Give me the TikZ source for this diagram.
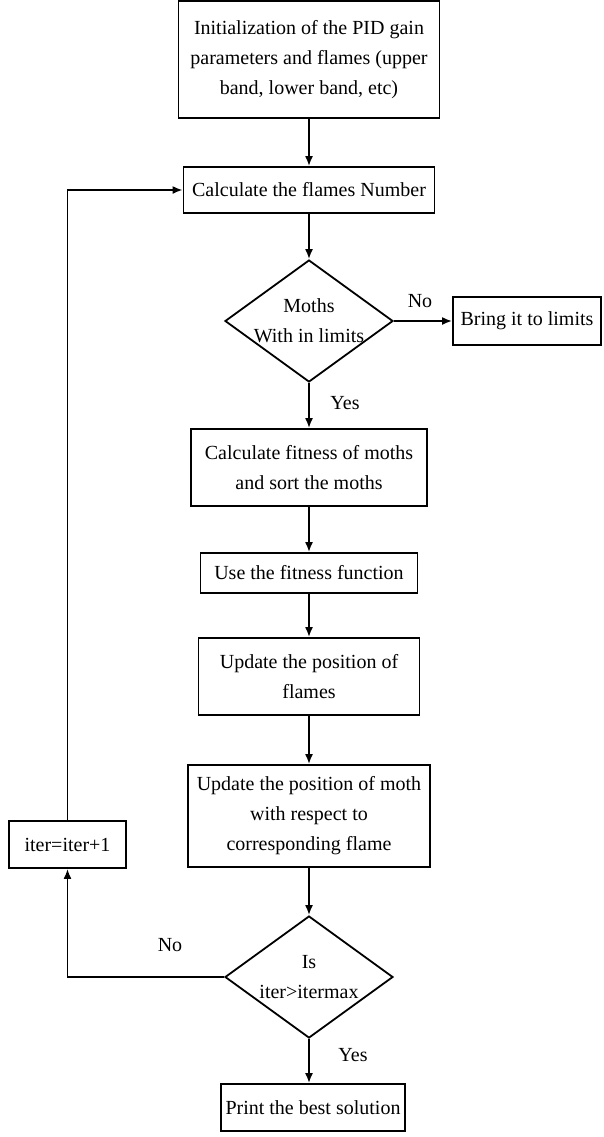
\documentclass[tikz,border=0pt]{standalone}
\usepackage{fontspec}
\setmainfont{Liberation Serif}
\usetikzlibrary{shapes.geometric,arrows.meta}

\begin{document}
\begin{tikzpicture}[x=0.5pt,y=-0.5pt,
                font=\fontsize{10}{15}\selectfont,
                box/.style={draw,line width=0.9pt,align=center,inner sep=0pt},
                decision/.style={draw,diamond,line width=0.9pt,inner sep=0pt,minimum width=84pt,minimum height=61pt},
                link/.style={line width=0.9pt,-{Latex[length=5pt,width=4pt]}}]
                \useasboundingbox (0,0) rectangle (604,1137);

                \node[box,minimum width=130.5pt,minimum height=58.5pt] (init) at (309,59.5)
                    {Initialization of the PID gain\\parameters and flames (upper\\band, lower band, etc)};
                \node[box,minimum width=125.5pt,minimum height=23pt] (calc) at (309,190)
                    {Calculate the flames Number};
                \node[decision,label={[align=center]center:Moths\\With in limits}] (moths) at (309,321) {};
                \node[box,minimum width=74pt,minimum height=24pt] (limits) at (527,321)
                    {Bring it to limits};
                \node[box,minimum width=118pt,minimum height=38.5pt] (fitness) at (309,467.5)
                    {Calculate fitness of moths\\and sort the moths};
                \node[box,minimum width=108.5pt,minimum height=20pt] (usefit) at (309,573)
                    {Use the fitness function};
                \node[box,minimum width=110.5pt,minimum height=38.5pt] (flames) at (309,676.5)
                    {Update the position of\\flames};
                \node[box,minimum width=121pt,minimum height=51pt] (mothpos) at (309,816)
                    {Update the position of moth\\with respect to\\corresponding flame};
                \node[box,minimum width=58.5pt,minimum height=23.5pt] (iter) at (67.5,844.5)
                    {iter=iter+1};
                \node[decision,label={[align=center]center:Is\\iter>itermax}] (check) at (309,977) {};
                \node[box,minimum width=92pt,minimum height=23.5pt] (print) at (313,1107.5)
                    {Print the best solution};

                \node (no1) at (420,301) {No};
                \node (yes1) at (345,403) {Yes};
                \node (no2) at (170,945) {No};
                \node (yes2) at (353,1055) {Yes};

                \draw[link] (init) -- (calc);
                \draw[link] (calc) -- (moths);
                \draw[link] (moths) -- (limits);
                \draw[link] (moths) -- (fitness);
                \draw[link] (fitness) -- (usefit);
                \draw[link] (usefit) -- (flames);
                \draw[link] (flames) -- (mothpos);
                \draw[link] (mothpos) -- (check);
                \draw[link] (check.south) -- (check.south |- print.north);
                \draw[link] (check.west) -- (check.west -| iter) -- (iter.south);
                \draw[link] (iter.north) -- (iter.north |- calc.west) -- (calc.west);
\end{tikzpicture}
\end{document}
